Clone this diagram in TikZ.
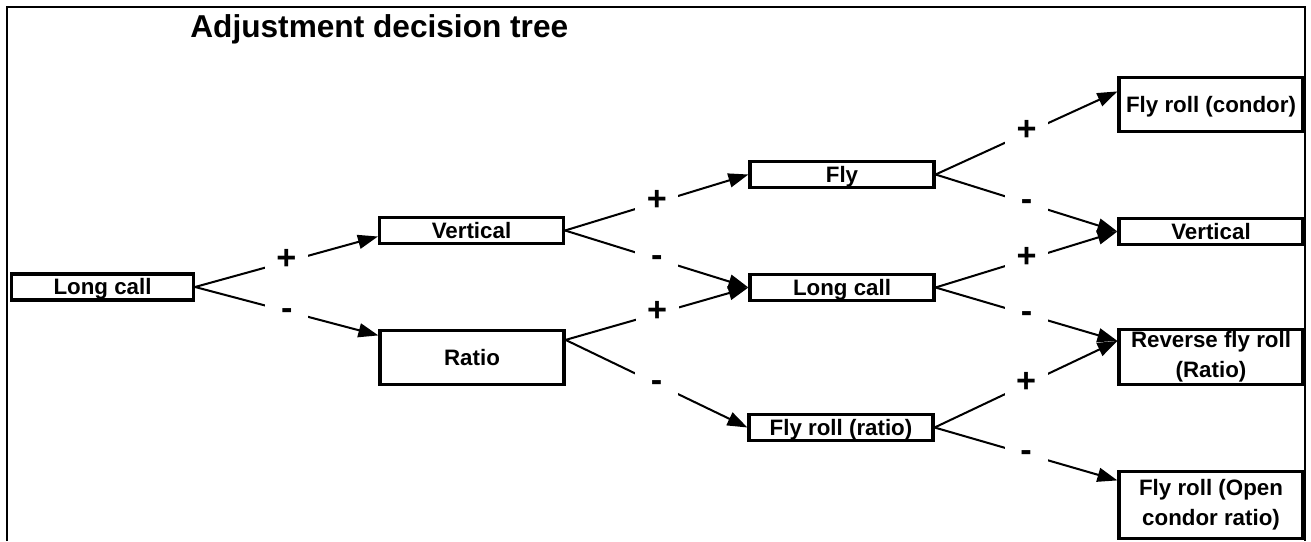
\documentclass[tikz,border=0pt]{standalone}
\usepackage{fontspec}
\setmainfont{Liberation Sans}
\usetikzlibrary{arrows.meta}
\begin{document}
\begin{tikzpicture}[
    box/.style={draw,line width=1.8pt,inner sep=0pt,minimum width=3.68cm,minimum height=0.52cm,
      align=center,font=\fontsize{12.7}{17.1}\selectfont\bfseries},
    onebox/.style={box,text height=8.6pt,text depth=0pt},
    branch/.style={line width=1.15pt,-{Triangle[length=0.4cm,width=0.28cm]}},
    sign/.style={fill=white,inner sep=0pt,minimum width=0.86cm,minimum height=0.6cm,
      text height=14pt,text depth=5pt,font=\fontsize{19.5}{20}\selectfont\bfseries}]
  \useasboundingbox (0,0) rectangle (26.22,10.82);
  \draw[line width=1.1pt] (0.14,0)--(0.14,10.68)--(26.1,10.68)--(26.1,0); %枠
  \node[anchor=base west,inner sep=0pt,font=\fontsize{18}{20}\selectfont\bfseries] (title) at (3.8,10.06) {Adjustment decision tree}; %タイトル

  %1列目, 2列目
  \node[onebox,minimum width=3.64cm] (L1) at (2.05,5.08) {Long call};
  \node[onebox] (V1) at (9.43,6.21) {Vertical};
  \node[onebox,minimum height=1.08cm] (R1) at (9.44,3.67) {Ratio};

  %3列目
  \node[onebox] (F2) at (16.84,7.33) {Fly};
  \node[onebox] (L2) at (16.84,5.07) {Long call};
  \node[onebox] (FR2) at (16.82,2.27) {Fly roll (ratio)};

  %4列目
  \node[onebox,minimum height=1.08cm] (FC3) at (24.22,8.73) {Fly roll (condor)};
  \node[onebox] (V3) at (24.22,6.19) {Vertical};
  \node[box,minimum height=1.1cm] (RF3) at (24.22,3.68) {Reverse fly roll\\(Ratio)};
  \node[box,minimum height=1.34cm] (FO3) at (24.22,0.72) {Fly roll (Open\\condor ratio)};

  \draw[branch] (L1.east)--([yshift=-0.12cm]V1.west) node[sign,midway]{+};
  \draw[branch] (L1.east)--([yshift=-0.13cm]R1.north west) node[sign,midway]{-};

  \draw[branch] (V1.east)--(F2.west) node[sign,midway]{+};
  \draw[branch] (V1.east)--(L2.west) node[sign,midway]{-};
  \draw[branch] ([yshift=-0.22cm]R1.north east)--(L2.west) node[sign,midway]{+};
  \draw[branch] ([yshift=-0.22cm]R1.north east)--(FR2.west) node[sign,midway]{-};

  \draw[branch] (F2.east)--([yshift=-0.31cm]FC3.north west) node[sign,midway]{+};
  \draw[branch] (F2.east)--(V3.west) node[sign,midway]{-};
  \draw[branch] (L2.east)--(V3.west) node[sign,midway]{+};
  \draw[branch] (L2.east)--([yshift=-0.26cm]RF3.north west) node[sign,midway]{-};
  \draw[branch] (FR2.east)--([yshift=-0.26cm]RF3.north west) node[sign,midway]{+};
  \draw[branch] (FR2.east)--([yshift=-0.21cm]FO3.north west) node[sign,midway]{-};
\end{tikzpicture}
\end{document}
